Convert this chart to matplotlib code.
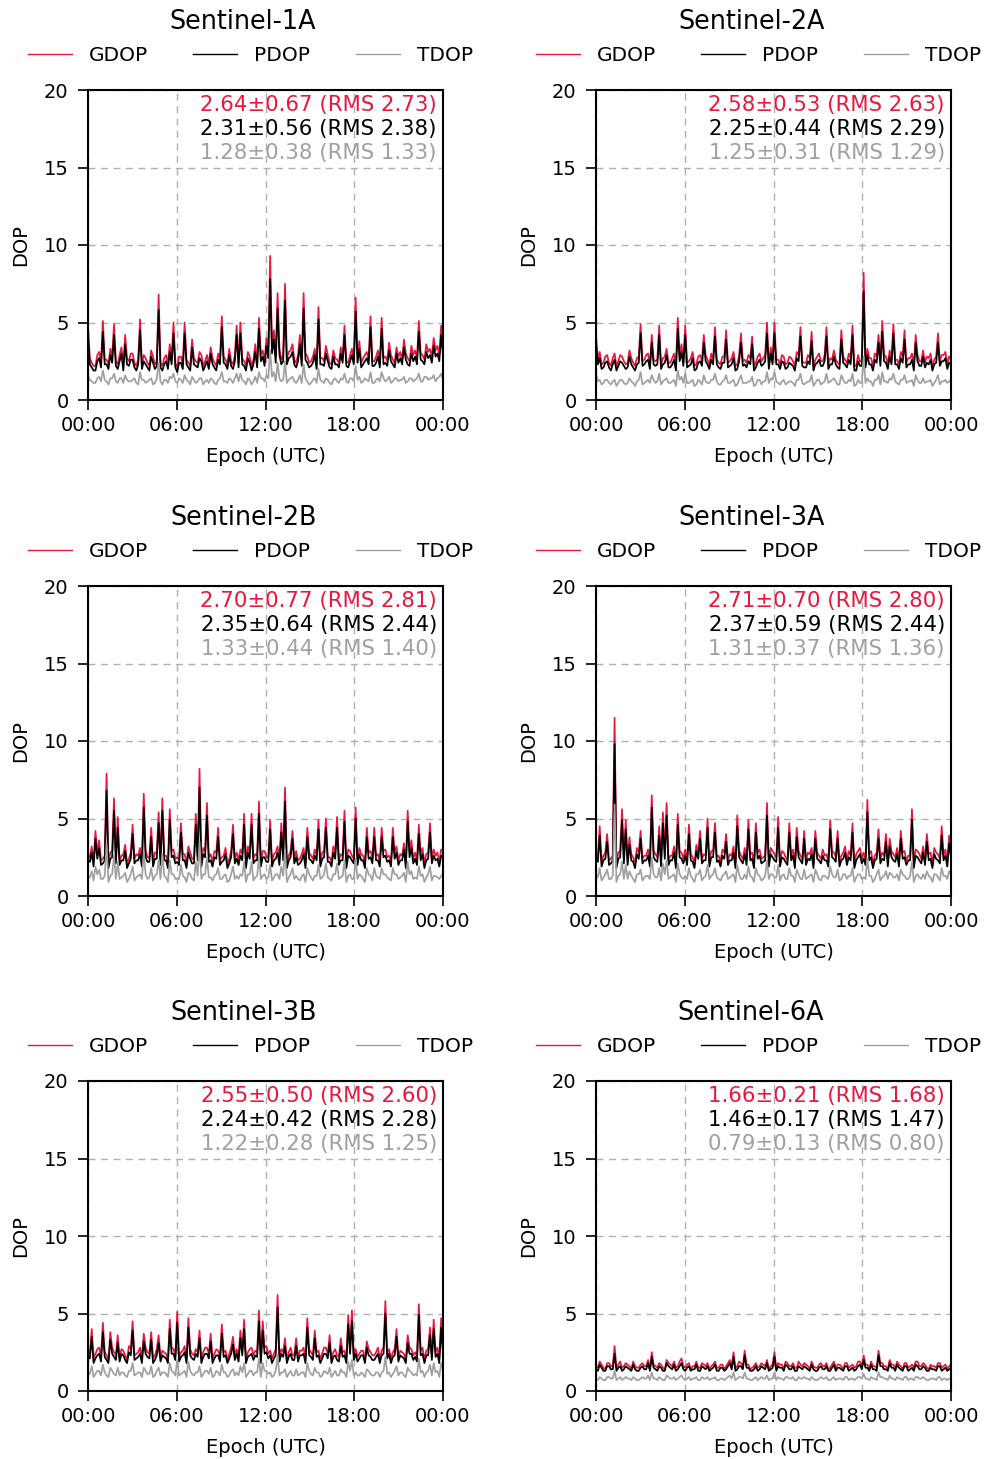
import numpy as np
import matplotlib
matplotlib.use("Agg")
import matplotlib.pyplot as plt

## DOP time series per satellite, 7.5-min samples over one day
satellites = ["Sentinel-1A", "Sentinel-2A", "Sentinel-2B", "Sentinel-3A", "Sentinel-3B", "Sentinel-6A"]

gdop_s1a = [4.8, 2.7, 2.4, 2.2, 2.2, 2.9, 3.1, 2.4, 5.1, 2.6, 2.6, 2.3, 3.3, 2.8, 4.9, 2.5,
            2.3, 2.9, 3.4, 2.2, 4.2, 2.7, 2.5, 3.0, 3.0, 2.4, 2.2, 2.6, 5.2, 2.3, 2.9, 2.7,
            2.4, 2.2, 3.2, 2.8, 2.3, 2.5, 6.8, 2.4, 2.2, 2.7, 2.9, 2.3, 3.6, 2.6, 5.0, 2.4,
            2.1, 2.8, 2.8, 2.3, 5.0, 2.6, 2.4, 2.2, 3.9, 2.7, 2.5, 2.4, 3.1, 2.9, 2.2, 2.5,
            2.9, 2.3, 3.4, 2.7, 2.4, 2.2, 3.0, 2.6, 5.4, 2.8, 2.6, 2.3, 3.3, 2.5, 2.3, 2.9,
            4.8, 2.4, 5.0, 2.7, 2.5, 2.2, 3.1, 2.8, 2.2, 2.6, 3.6, 2.4, 5.3, 2.9, 3.2, 2.5,
            4.0, 3.1, 9.3, 3.4, 4.5, 2.8, 6.9, 3.3, 2.6, 2.9, 7.5, 2.7, 3.1, 3.2, 3.6, 2.6,
            2.4, 2.9, 4.2, 2.5, 6.9, 3.0, 2.8, 2.4, 2.5, 2.8, 3.3, 2.3, 6.0, 2.7, 2.7, 2.5,
            3.5, 2.9, 2.4, 2.3, 3.2, 2.7, 2.6, 2.4, 3.4, 2.8, 4.8, 2.5, 2.4, 2.9, 3.3, 2.6,
            6.6, 2.8, 3.8, 2.4, 2.7, 2.9, 3.1, 2.6, 5.4, 2.5, 2.5, 2.8, 3.2, 2.4, 5.3, 2.7,
            2.8, 2.5, 3.7, 2.9, 2.6, 2.4, 3.4, 2.8, 3.1, 2.6, 3.9, 3.0, 2.7, 2.5, 3.5, 2.9,
            3.2, 2.7, 5.1, 3.0, 2.9, 2.6, 3.6, 3.1, 3.3, 2.8, 4.0, 3.2, 3.5, 2.9, 4.8, 3.3]
pdop_s1a = [4.1, 2.3, 2.1, 1.9, 1.9, 2.5, 2.7, 2.1, 4.4, 2.3, 2.3, 2.0, 2.9, 2.4, 4.2, 2.2,
            2.0, 2.5, 3.0, 1.9, 3.6, 2.3, 2.2, 2.6, 2.6, 2.1, 1.9, 2.3, 4.5, 2.0, 2.5, 2.3,
            2.1, 1.9, 2.8, 2.4, 2.0, 2.2, 5.8, 2.1, 1.9, 2.3, 2.5, 2.0, 3.1, 2.3, 4.3, 2.1,
            1.8, 2.4, 2.4, 2.0, 4.3, 2.3, 2.1, 1.9, 3.4, 2.3, 2.2, 2.1, 2.7, 2.5, 1.9, 2.2,
            2.5, 2.0, 3.0, 2.3, 2.1, 1.9, 2.6, 2.3, 4.7, 2.4, 2.3, 2.0, 2.9, 2.2, 2.0, 2.5,
            4.2, 2.1, 4.3, 2.3, 2.2, 1.9, 2.7, 2.4, 1.9, 2.3, 3.1, 2.1, 4.6, 2.5, 2.8, 2.2,
            3.5, 2.7, 7.8, 3.0, 3.9, 2.4, 5.9, 2.9, 2.3, 2.5, 6.4, 2.3, 2.7, 2.8, 3.1, 2.3,
            2.1, 2.5, 3.6, 2.2, 5.9, 2.6, 2.4, 2.1, 2.2, 2.4, 2.9, 2.0, 5.2, 2.3, 2.3, 2.2,
            3.0, 2.5, 2.1, 2.0, 2.8, 2.3, 2.3, 2.1, 3.0, 2.4, 4.2, 2.2, 2.1, 2.5, 2.9, 2.3,
            5.7, 2.4, 3.3, 2.1, 2.3, 2.5, 2.7, 2.3, 4.7, 2.2, 2.2, 2.4, 2.8, 2.1, 4.6, 2.3,
            2.4, 2.2, 3.2, 2.5, 2.3, 2.1, 3.0, 2.4, 2.7, 2.3, 3.4, 2.6, 2.3, 2.2, 3.0, 2.5,
            2.8, 2.3, 4.4, 2.6, 2.5, 2.3, 3.1, 2.7, 2.9, 2.4, 3.5, 2.8, 3.0, 2.5, 4.2, 2.9]
tdop_s1a = [1.6, 1.3, 1.2, 1.1, 1.1, 1.4, 1.5, 1.2, 1.9, 1.3, 1.2, 1.0, 1.4, 1.4, 1.7, 1.2,
            1.1, 1.4, 1.4, 1.1, 1.6, 1.3, 1.2, 1.2, 1.3, 1.4, 1.1, 1.0, 1.8, 1.3, 1.3, 1.1,
            1.2, 1.3, 1.4, 1.0, 1.1, 1.4, 2.4, 1.2, 1.0, 1.3, 1.3, 1.1, 1.5, 1.4, 1.7, 1.2,
            1.1, 1.4, 1.3, 1.1, 1.6, 1.3, 1.2, 1.0, 1.5, 1.3, 1.1, 1.2, 1.4, 1.4, 1.0, 1.2,
            1.3, 1.1, 1.4, 1.3, 1.1, 1.0, 1.3, 1.4, 1.8, 1.2, 1.2, 1.1, 1.4, 1.3, 1.1, 1.4,
            1.7, 1.2, 1.7, 1.3, 1.2, 1.0, 1.4, 1.3, 1.0, 1.2, 1.5, 1.1, 1.8, 1.4, 1.4, 1.2,
            1.6, 1.4, 3.2, 1.5, 1.8, 1.2, 2.4, 1.4, 1.2, 1.3, 2.5, 1.1, 1.3, 1.4, 1.5, 1.2,
            1.1, 1.3, 1.6, 1.1, 2.3, 1.4, 1.2, 1.0, 1.1, 1.3, 1.4, 1.1, 2.0, 1.3, 1.2, 1.1,
            1.4, 1.3, 1.1, 1.0, 1.3, 1.4, 1.2, 1.1, 1.4, 1.3, 1.7, 1.2, 1.1, 1.4, 1.4, 1.2,
            2.2, 1.3, 1.5, 1.1, 1.2, 1.4, 1.3, 1.2, 1.8, 1.1, 1.1, 1.3, 1.4, 1.2, 1.8, 1.4,
            1.2, 1.3, 1.5, 1.1, 1.2, 1.4, 1.4, 1.2, 1.3, 1.3, 1.5, 1.1, 1.2, 1.4, 1.4, 1.2,
            1.3, 1.4, 1.7, 1.2, 1.2, 1.5, 1.5, 1.3, 1.4, 1.4, 1.6, 1.2, 1.4, 1.5, 1.7, 1.3]

gdop_s2a = [4.2, 2.6, 3.1, 2.3, 2.4, 2.8, 2.9, 2.4, 2.2, 2.7, 3.0, 2.2, 2.5, 2.9, 2.8, 2.5,
            2.3, 2.4, 3.2, 2.7, 2.4, 2.2, 2.7, 2.8, 4.9, 2.5, 2.6, 2.9, 3.0, 2.3, 4.2, 2.6,
            2.5, 2.6, 4.8, 2.3, 2.7, 2.8, 3.3, 2.4, 2.4, 2.7, 3.0, 2.2, 5.3, 2.9, 3.6, 2.5,
            4.8, 2.4, 2.5, 2.7, 3.1, 2.2, 2.3, 2.8, 2.9, 2.5, 4.2, 2.9, 2.6, 2.3, 3.0, 2.6,
            4.7, 2.6, 2.4, 2.3, 2.8, 2.8, 4.5, 2.4, 2.5, 2.7, 3.1, 2.2, 2.3, 2.9, 4.3, 2.5,
            2.6, 2.4, 2.9, 2.7, 4.1, 2.2, 2.4, 2.8, 3.0, 2.5, 2.7, 2.9, 5.0, 2.3, 3.4, 2.6,
            5.0, 2.6, 2.6, 2.3, 2.9, 2.8, 2.3, 2.4, 2.8, 2.7, 2.5, 2.2, 3.1, 2.9, 4.7, 2.5,
            2.4, 2.4, 2.9, 2.7, 4.4, 2.2, 2.6, 2.8, 3.0, 2.5, 2.5, 2.9, 4.7, 2.3, 2.7, 2.6,
            3.2, 2.6, 2.4, 2.3, 4.5, 2.8, 2.6, 2.4, 3.0, 2.7, 4.8, 2.2, 2.2, 2.9, 2.5, 2.5,
            8.2, 2.4, 3.3, 2.7, 2.7, 2.2, 3.0, 2.8, 4.2, 2.5, 5.1, 2.9, 2.8, 2.3, 3.2, 2.6,
            4.9, 2.6, 2.6, 2.3, 3.1, 2.8, 4.5, 2.4, 2.7, 2.7, 3.0, 2.2, 4.2, 2.9, 2.5, 2.5,
            3.2, 2.4, 2.8, 2.7, 3.0, 2.2, 2.6, 2.8, 4.3, 2.5, 2.9, 2.9, 3.1, 2.3, 2.8, 2.6]
pdop_s2a = [3.7, 2.3, 2.7, 2.0, 2.1, 2.4, 2.5, 2.1, 1.9, 2.3, 2.6, 1.9, 2.2, 2.5, 2.4, 2.2,
            2.0, 2.1, 2.8, 2.3, 2.1, 1.9, 2.3, 2.4, 4.3, 2.2, 2.3, 2.5, 2.6, 2.0, 3.7, 2.3,
            2.2, 2.3, 4.2, 2.0, 2.3, 2.4, 2.9, 2.1, 2.1, 2.3, 2.6, 1.9, 4.6, 2.5, 3.1, 2.2,
            4.2, 2.1, 2.2, 2.3, 2.7, 1.9, 2.0, 2.4, 2.5, 2.2, 3.7, 2.5, 2.3, 2.0, 2.6, 2.3,
            4.1, 2.3, 2.1, 2.0, 2.4, 2.4, 3.9, 2.1, 2.2, 2.3, 2.7, 1.9, 2.0, 2.5, 3.7, 2.2,
            2.3, 2.1, 2.5, 2.3, 3.6, 1.9, 2.1, 2.4, 2.6, 2.2, 2.3, 2.5, 4.3, 2.0, 3.0, 2.3,
            4.3, 2.3, 2.3, 2.0, 2.5, 2.4, 2.0, 2.1, 2.4, 2.3, 2.2, 1.9, 2.7, 2.5, 4.1, 2.2,
            2.1, 2.1, 2.5, 2.3, 3.8, 1.9, 2.3, 2.4, 2.6, 2.2, 2.2, 2.5, 4.1, 2.0, 2.3, 2.3,
            2.8, 2.3, 2.1, 2.0, 3.9, 2.4, 2.3, 2.1, 2.6, 2.3, 4.2, 1.9, 1.9, 2.5, 2.2, 2.2,
            7.0, 2.1, 2.9, 2.3, 2.3, 1.9, 2.6, 2.4, 3.7, 2.2, 4.4, 2.5, 2.4, 2.0, 2.8, 2.3,
            4.3, 2.3, 2.3, 2.0, 2.7, 2.4, 3.9, 2.1, 2.3, 2.3, 2.6, 1.9, 3.7, 2.5, 2.2, 2.2,
            2.8, 2.1, 2.4, 2.3, 2.6, 1.9, 2.3, 2.4, 3.7, 2.2, 2.5, 2.5, 2.7, 2.0, 2.4, 2.3]
tdop_s2a = [1.7, 1.2, 1.3, 1.0, 1.1, 1.3, 1.3, 1.1, 1.0, 1.2, 1.3, 0.9, 1.1, 1.3, 1.3, 1.1,
            1.0, 1.1, 1.4, 1.2, 1.1, 0.9, 1.2, 1.3, 1.8, 1.0, 1.1, 1.2, 1.3, 1.1, 1.6, 1.3,
            1.1, 1.2, 1.7, 1.0, 1.2, 1.3, 1.4, 1.1, 1.1, 1.2, 1.3, 0.9, 1.9, 1.3, 1.5, 1.1,
            1.7, 1.1, 1.1, 1.2, 1.3, 0.9, 1.0, 1.3, 1.2, 1.0, 1.6, 1.2, 1.1, 1.1, 1.3, 1.3,
            1.7, 1.2, 1.0, 1.0, 1.2, 1.3, 1.6, 1.1, 1.1, 1.2, 1.3, 0.9, 1.0, 1.3, 1.6, 1.1,
            1.1, 1.1, 1.2, 1.2, 1.5, 0.9, 1.0, 1.3, 1.3, 1.0, 1.2, 1.2, 1.8, 1.1, 1.4, 1.3,
            1.8, 1.2, 1.1, 1.0, 1.2, 1.3, 1.0, 1.1, 1.2, 1.2, 1.1, 0.9, 1.3, 1.3, 1.7, 1.1,
            1.0, 1.1, 1.2, 1.2, 1.6, 0.9, 1.1, 1.3, 1.3, 1.0, 1.1, 1.2, 1.7, 1.1, 1.2, 1.3,
            1.4, 1.2, 1.0, 1.0, 1.6, 1.3, 1.1, 1.1, 1.3, 1.2, 1.7, 0.9, 1.0, 1.3, 1.1, 1.1,
            2.8, 1.1, 1.4, 1.2, 1.2, 0.9, 1.3, 1.3, 1.6, 1.0, 1.8, 1.2, 1.2, 1.1, 1.4, 1.3,
            1.7, 1.2, 1.1, 1.0, 1.3, 1.3, 1.6, 1.1, 1.2, 1.2, 1.3, 0.9, 1.6, 1.3, 1.1, 1.1,
            1.4, 1.1, 1.2, 1.2, 1.3, 0.9, 1.1, 1.3, 1.6, 1.0, 1.2, 1.2, 1.3, 1.1, 1.2, 1.3]

gdop_s2b = [2.7, 2.5, 3.2, 2.2, 4.2, 2.8, 3.6, 2.3, 2.4, 2.6, 7.9, 2.1, 2.8, 2.9, 6.3, 2.4,
            5.1, 2.3, 2.6, 2.7, 3.3, 2.1, 2.4, 2.8, 4.6, 2.4, 2.7, 2.6, 3.1, 2.2, 6.6, 2.9,
            2.5, 2.5, 4.4, 2.2, 2.8, 2.8, 5.4, 2.3, 6.3, 2.6, 2.6, 2.1, 5.6, 2.9, 3.0, 2.4,
            2.5, 2.3, 4.7, 2.7, 2.7, 2.1, 3.2, 2.8, 2.4, 2.4, 5.3, 2.6, 8.2, 2.2, 3.1, 2.9,
            6.0, 2.5, 2.7, 2.2, 2.9, 2.8, 4.4, 2.3, 2.5, 2.6, 3.1, 2.1, 2.4, 2.9, 4.6, 2.4,
            2.8, 2.3, 3.0, 2.7, 5.3, 2.1, 3.2, 2.8, 5.3, 2.4, 2.7, 2.6, 6.1, 2.2, 2.9, 2.9,
            2.5, 2.5, 4.9, 2.2, 2.7, 2.8, 3.2, 2.3, 4.7, 2.6, 7.0, 2.1, 2.6, 2.9, 4.2, 2.4,
            2.9, 2.3, 2.4, 2.7, 3.1, 2.1, 4.4, 2.8, 2.6, 2.4, 3.0, 2.6, 4.9, 2.2, 2.8, 2.9,
            5.0, 2.5, 2.5, 2.2, 3.2, 2.8, 5.1, 2.3, 2.7, 2.6, 5.5, 2.1, 3.0, 2.9, 2.6, 2.4,
            5.7, 2.3, 3.1, 2.7, 2.6, 2.1, 4.4, 2.8, 2.9, 2.4, 4.4, 2.6, 2.7, 2.2, 4.4, 2.9,
            3.0, 2.5, 2.6, 2.2, 4.4, 2.8, 3.2, 2.3, 2.7, 2.6, 3.4, 2.1, 5.5, 2.9, 3.6, 2.4,
            2.8, 2.3, 4.6, 2.7, 3.1, 2.1, 2.7, 2.8, 4.7, 2.4, 3.0, 2.6, 2.8, 2.2, 3.0, 2.9]
pdop_s2b = [2.3, 2.2, 2.8, 1.9, 3.7, 2.4, 3.1, 2.0, 2.1, 2.3, 6.8, 1.8, 2.4, 2.5, 5.5, 2.1,
            4.4, 2.0, 2.3, 2.3, 2.9, 1.8, 2.1, 2.4, 4.0, 2.1, 2.3, 2.3, 2.7, 1.9, 5.7, 2.5,
            2.2, 2.2, 3.8, 1.9, 2.4, 2.4, 4.7, 2.0, 5.5, 2.3, 2.3, 1.8, 4.9, 2.5, 2.6, 2.1,
            2.2, 2.0, 4.1, 2.3, 2.3, 1.8, 2.8, 2.4, 2.1, 2.1, 4.6, 2.3, 7.0, 1.9, 2.7, 2.5,
            5.2, 2.2, 2.3, 1.9, 2.5, 2.4, 3.8, 2.0, 2.2, 2.3, 2.7, 1.8, 2.1, 2.5, 4.0, 2.1,
            2.4, 2.0, 2.6, 2.3, 4.6, 1.8, 2.8, 2.4, 4.6, 2.1, 2.3, 2.3, 5.3, 1.9, 2.5, 2.5,
            2.2, 2.2, 4.3, 1.9, 2.3, 2.4, 2.8, 2.0, 4.1, 2.3, 6.1, 1.8, 2.3, 2.5, 3.7, 2.1,
            2.5, 2.0, 2.1, 2.3, 2.7, 1.8, 3.8, 2.4, 2.3, 2.1, 2.6, 2.3, 4.3, 1.9, 2.4, 2.5,
            4.4, 2.2, 2.2, 1.9, 2.8, 2.4, 4.4, 2.0, 2.3, 2.3, 4.8, 1.8, 2.6, 2.5, 2.3, 2.1,
            5.0, 2.0, 2.7, 2.3, 2.3, 1.8, 3.8, 2.4, 2.5, 2.1, 3.8, 2.3, 2.3, 1.9, 3.8, 2.5,
            2.6, 2.2, 2.3, 1.9, 3.8, 2.4, 2.8, 2.0, 2.3, 2.3, 3.0, 1.8, 4.8, 2.5, 3.1, 2.1,
            2.4, 2.0, 4.0, 2.3, 2.7, 1.8, 2.3, 2.4, 4.1, 2.1, 2.6, 2.3, 2.4, 1.9, 2.6, 2.5]
tdop_s2b = [1.3, 1.2, 1.6, 1.0, 1.9, 1.4, 1.7, 1.1, 1.1, 1.3, 3.4, 0.9, 1.3, 1.4, 2.6, 1.1,
            2.2, 1.1, 1.2, 1.3, 1.5, 0.9, 1.1, 1.4, 1.9, 1.0, 1.2, 1.3, 1.4, 1.1, 2.8, 1.4,
            1.1, 1.2, 1.8, 1.0, 1.3, 1.4, 2.3, 1.1, 2.7, 1.3, 1.2, 0.9, 2.3, 1.4, 1.4, 1.1,
            1.1, 1.1, 2.0, 1.3, 1.2, 0.9, 1.5, 1.4, 1.1, 1.0, 2.2, 1.3, 3.5, 1.1, 1.4, 1.4,
            2.5, 1.2, 1.2, 1.0, 1.3, 1.4, 1.8, 1.1, 1.1, 1.3, 1.4, 0.9, 1.0, 1.4, 1.9, 1.1,
            1.3, 1.1, 1.4, 1.3, 2.2, 0.9, 1.4, 1.4, 2.2, 1.0, 1.2, 1.3, 2.5, 1.1, 1.3, 1.4,
            1.1, 1.2, 2.0, 1.0, 1.2, 1.4, 1.4, 1.1, 1.9, 1.3, 3.0, 0.9, 1.2, 1.4, 1.8, 1.1,
            1.3, 1.1, 1.0, 1.3, 1.4, 0.9, 1.8, 1.4, 1.2, 1.0, 1.3, 1.3, 2.0, 1.1, 1.2, 1.4,
            2.1, 1.2, 1.1, 1.0, 1.4, 1.4, 2.1, 1.1, 1.2, 1.3, 2.3, 0.9, 1.3, 1.4, 1.1, 1.1,
            2.4, 1.1, 1.4, 1.3, 1.1, 0.9, 1.8, 1.4, 1.3, 1.0, 1.8, 1.3, 1.2, 1.1, 1.8, 1.4,
            1.4, 1.2, 1.1, 1.0, 1.8, 1.4, 1.4, 1.1, 1.2, 1.3, 1.5, 0.9, 2.2, 1.4, 1.6, 1.1,
            1.2, 1.1, 1.9, 1.3, 1.4, 0.9, 1.2, 1.4, 1.9, 1.0, 1.3, 1.3, 1.2, 1.1, 1.3, 1.4]

gdop_s3a = [2.9, 2.5, 4.5, 2.2, 2.6, 2.8, 4.0, 2.3, 2.4, 2.6, 11.5, 2.1, 2.8, 2.9, 5.6, 2.4,
            4.9, 2.3, 3.8, 2.7, 2.5, 2.1, 3.1, 2.8, 4.2, 2.4, 2.6, 2.6, 3.0, 2.2, 6.5, 2.9,
            2.7, 2.5, 4.5, 2.2, 5.4, 2.8, 6.0, 2.3, 2.6, 2.6, 3.2, 2.1, 5.3, 2.9, 2.8, 2.4,
            3.0, 2.3, 4.6, 2.7, 2.5, 2.1, 3.3, 2.8, 4.2, 2.4, 2.7, 2.6, 5.0, 2.2, 2.9, 2.9,
            4.7, 2.5, 2.6, 2.2, 3.0, 2.8, 4.0, 2.3, 2.7, 2.6, 3.2, 2.1, 5.2, 2.9, 2.6, 2.4,
            3.1, 2.3, 4.9, 2.7, 2.8, 2.1, 4.7, 2.8, 3.0, 2.4, 2.5, 2.6, 6.0, 2.2, 3.1, 2.9,
            2.7, 2.5, 5.1, 2.2, 2.9, 2.8, 2.5, 2.3, 4.7, 2.6, 3.0, 2.1, 4.4, 2.9, 2.6, 2.4,
            4.2, 2.3, 2.8, 2.7, 3.1, 2.1, 4.2, 2.8, 2.6, 2.4, 3.0, 2.6, 2.7, 2.2, 4.9, 2.9,
            2.8, 2.5, 4.2, 2.2, 2.6, 2.8, 3.2, 2.3, 2.9, 2.6, 4.7, 2.1, 2.7, 2.9, 3.1, 2.4,
            2.8, 2.3, 6.2, 2.7, 2.9, 2.1, 2.6, 2.8, 4.3, 2.4, 2.8, 2.6, 4.0, 2.2, 3.7, 2.9,
            2.7, 2.5, 3.1, 2.2, 4.2, 2.8, 2.9, 2.3, 2.6, 2.6, 5.6, 2.1, 3.0, 2.9, 2.7, 2.4,
            3.2, 2.3, 4.0, 2.7, 2.8, 2.1, 3.1, 2.8, 2.7, 2.4, 4.5, 2.6, 3.0, 2.2, 3.9, 2.9]
pdop_s3a = [2.5, 2.2, 3.9, 1.9, 2.3, 2.4, 3.5, 2.0, 2.1, 2.3, 9.8, 1.8, 2.4, 2.5, 4.9, 2.1,
            4.3, 2.0, 3.3, 2.3, 2.2, 1.8, 2.7, 2.4, 3.7, 2.1, 2.3, 2.3, 2.6, 1.9, 5.7, 2.5,
            2.3, 2.2, 3.9, 1.9, 4.7, 2.4, 5.2, 2.0, 2.3, 2.3, 2.8, 1.8, 4.6, 2.5, 2.4, 2.1,
            2.6, 2.0, 4.0, 2.3, 2.2, 1.8, 2.9, 2.4, 3.7, 2.1, 2.3, 2.3, 4.4, 1.9, 2.5, 2.5,
            4.1, 2.2, 2.3, 1.9, 2.6, 2.4, 3.5, 2.0, 2.3, 2.3, 2.8, 1.8, 4.5, 2.5, 2.3, 2.1,
            2.7, 2.0, 4.3, 2.3, 2.4, 1.8, 4.1, 2.4, 2.6, 2.1, 2.2, 2.3, 5.2, 1.9, 2.7, 2.5,
            2.3, 2.2, 4.4, 1.9, 2.5, 2.4, 2.2, 2.0, 4.1, 2.3, 2.6, 1.8, 3.8, 2.5, 2.3, 2.1,
            3.7, 2.0, 2.4, 2.3, 2.7, 1.8, 3.7, 2.4, 2.3, 2.1, 2.6, 2.3, 2.3, 1.9, 4.3, 2.5,
            2.4, 2.2, 3.7, 1.9, 2.3, 2.4, 2.8, 2.0, 2.5, 2.3, 4.1, 1.8, 2.3, 2.5, 2.7, 2.1,
            2.4, 2.0, 5.4, 2.3, 2.5, 1.8, 2.3, 2.4, 3.7, 2.1, 2.4, 2.3, 3.5, 1.9, 3.2, 2.5,
            2.3, 2.2, 2.7, 1.9, 3.7, 2.4, 2.5, 2.0, 2.3, 2.3, 4.9, 1.8, 2.6, 2.5, 2.3, 2.1,
            2.8, 2.0, 3.5, 2.3, 2.4, 1.8, 2.7, 2.4, 2.3, 2.1, 3.9, 2.3, 2.6, 1.9, 3.4, 2.5]
tdop_s3a = [1.4, 1.2, 1.8, 1.0, 1.2, 1.4, 1.7, 1.1, 1.1, 1.3, 5.9, 0.9, 1.3, 1.4, 2.2, 1.1,
            2.0, 1.1, 1.6, 1.3, 1.1, 0.9, 1.4, 1.4, 1.7, 1.0, 1.2, 1.3, 1.3, 1.1, 2.5, 1.4,
            1.2, 1.2, 1.8, 1.0, 2.1, 1.4, 2.3, 1.1, 1.2, 1.3, 1.4, 0.9, 2.1, 1.4, 1.2, 1.1,
            1.3, 1.1, 1.8, 1.3, 1.1, 0.9, 1.4, 1.4, 1.7, 1.0, 1.2, 1.3, 2.0, 1.1, 1.3, 1.4,
            1.8, 1.2, 1.1, 1.0, 1.3, 1.4, 1.6, 1.1, 1.2, 1.3, 1.4, 0.9, 2.0, 1.4, 1.1, 1.1,
            1.4, 1.1, 1.9, 1.3, 1.2, 0.9, 1.8, 1.4, 1.3, 1.0, 1.1, 1.3, 2.3, 1.1, 1.4, 1.4,
            1.2, 1.2, 2.0, 1.0, 1.3, 1.4, 1.1, 1.1, 1.8, 1.3, 1.3, 0.9, 1.7, 1.4, 1.1, 1.1,
            1.7, 1.1, 1.2, 1.3, 1.4, 0.9, 1.7, 1.4, 1.1, 1.0, 1.3, 1.3, 1.2, 1.1, 1.9, 1.4,
            1.2, 1.2, 1.7, 1.0, 1.1, 1.4, 1.4, 1.1, 1.3, 1.3, 1.8, 0.9, 1.2, 1.4, 1.4, 1.1,
            1.2, 1.1, 2.4, 1.3, 1.3, 0.9, 1.1, 1.4, 1.7, 1.0, 1.2, 1.3, 1.6, 1.1, 1.5, 1.4,
            1.2, 1.2, 1.4, 1.0, 1.7, 1.4, 1.3, 1.1, 1.1, 1.3, 2.2, 0.9, 1.3, 1.4, 1.2, 1.1,
            1.4, 1.1, 1.6, 1.3, 1.2, 0.9, 1.4, 1.4, 1.2, 1.0, 1.8, 1.3, 1.3, 1.1, 1.6, 1.4]

gdop_s3b = [2.6, 2.4, 4.0, 2.1, 2.4, 2.7, 2.8, 2.2, 4.4, 2.5, 2.3, 2.0, 3.8, 2.8, 2.5, 2.3,
            3.6, 2.2, 2.7, 2.6, 2.3, 2.0, 2.9, 2.7, 4.5, 2.3, 2.4, 2.5, 2.8, 2.1, 3.7, 2.8,
            2.5, 2.4, 3.8, 2.1, 2.3, 2.7, 3.6, 2.2, 2.6, 2.5, 2.4, 2.0, 4.6, 2.8, 2.7, 2.3,
            5.1, 2.2, 2.5, 2.6, 2.9, 2.0, 4.7, 2.7, 2.4, 2.3, 2.7, 2.5, 3.9, 2.1, 2.5, 2.8,
            2.8, 2.4, 3.7, 2.1, 2.4, 2.7, 2.6, 2.2, 4.3, 2.5, 2.6, 2.0, 2.4, 2.8, 3.5, 2.3,
            2.7, 2.2, 3.9, 2.6, 4.6, 2.0, 2.5, 2.7, 2.8, 2.3, 2.6, 2.5, 5.2, 2.1, 4.5, 2.8,
            2.9, 2.4, 2.6, 2.1, 2.4, 2.7, 6.2, 2.2, 2.7, 2.5, 3.4, 2.0, 2.5, 2.8, 2.3, 2.3,
            3.4, 2.2, 2.6, 2.6, 2.8, 2.0, 4.7, 2.7, 2.5, 2.3, 3.9, 2.5, 2.6, 2.1, 2.4, 2.8,
            2.8, 2.4, 3.6, 2.1, 2.5, 2.7, 2.3, 2.2, 3.4, 2.5, 2.6, 2.0, 4.9, 2.8, 5.2, 2.3,
            2.7, 2.2, 2.4, 2.6, 2.6, 2.0, 3.2, 2.7, 2.5, 2.3, 2.3, 2.5, 2.8, 2.1, 2.6, 2.8,
            5.8, 2.4, 2.7, 2.1, 2.5, 2.7, 4.0, 2.2, 2.6, 2.5, 2.4, 2.0, 3.6, 2.8, 2.7, 2.3,
            2.5, 2.2, 5.6, 2.6, 2.8, 2.0, 2.6, 2.7, 4.1, 2.3, 4.6, 2.5, 2.8, 2.1, 4.7, 2.8]
pdop_s3b = [2.3, 2.1, 3.5, 1.8, 2.1, 2.3, 2.4, 1.9, 3.8, 2.2, 2.0, 1.8, 3.3, 2.4, 2.2, 2.0,
            3.1, 1.9, 2.4, 2.3, 2.0, 1.8, 2.5, 2.3, 3.9, 2.0, 2.1, 2.2, 2.4, 1.8, 3.2, 2.4,
            2.2, 2.1, 3.3, 1.8, 2.0, 2.3, 3.1, 1.9, 2.3, 2.2, 2.1, 1.8, 4.0, 2.4, 2.4, 2.0,
            4.4, 1.9, 2.2, 2.3, 2.5, 1.8, 4.1, 2.3, 2.1, 2.0, 2.4, 2.2, 3.4, 1.8, 2.2, 2.4,
            2.4, 2.1, 3.2, 1.8, 2.1, 2.3, 2.3, 1.9, 3.7, 2.2, 2.3, 1.8, 2.1, 2.4, 3.0, 2.0,
            2.4, 1.9, 3.4, 2.3, 4.0, 1.8, 2.2, 2.3, 2.4, 2.0, 2.3, 2.2, 4.5, 1.8, 3.9, 2.4,
            2.5, 2.1, 2.3, 1.8, 2.1, 2.3, 5.4, 1.9, 2.4, 2.2, 2.9, 1.8, 2.2, 2.4, 2.0, 2.0,
            2.9, 1.9, 2.3, 2.3, 2.4, 1.8, 4.1, 2.3, 2.2, 2.0, 3.4, 2.2, 2.3, 1.8, 2.1, 2.4,
            2.4, 2.1, 3.1, 1.8, 2.2, 2.3, 2.0, 1.9, 2.9, 2.2, 2.3, 1.8, 4.3, 2.4, 4.5, 2.0,
            2.4, 1.9, 2.1, 2.3, 2.3, 1.8, 2.8, 2.3, 2.2, 2.0, 2.0, 2.2, 2.4, 1.8, 2.3, 2.4,
            5.0, 2.1, 2.4, 1.8, 2.2, 2.3, 3.5, 1.9, 2.3, 2.2, 2.1, 1.8, 3.1, 2.4, 2.4, 2.0,
            2.2, 1.9, 4.9, 2.3, 2.4, 1.8, 2.3, 2.3, 3.6, 2.0, 4.0, 2.2, 2.4, 1.8, 4.1, 2.4]
tdop_s3b = [1.2, 1.1, 1.6, 0.9, 1.1, 1.3, 1.3, 1.0, 1.7, 1.2, 1.0, 0.9, 1.5, 1.3, 1.1, 1.0,
            1.5, 1.0, 1.2, 1.2, 1.0, 0.9, 1.3, 1.3, 1.8, 1.0, 1.1, 1.2, 1.2, 0.9, 1.5, 1.3,
            1.1, 1.1, 1.6, 0.9, 1.0, 1.3, 1.5, 1.0, 1.2, 1.2, 1.1, 0.9, 1.8, 1.3, 1.2, 1.0,
            2.0, 1.0, 1.1, 1.2, 1.3, 0.9, 1.9, 1.3, 1.1, 1.0, 1.2, 1.2, 1.6, 0.9, 1.1, 1.3,
            1.3, 1.1, 1.5, 0.9, 1.0, 1.3, 1.2, 1.0, 1.7, 1.2, 1.2, 0.9, 1.0, 1.3, 1.4, 1.0,
            1.2, 1.0, 1.6, 1.2, 1.8, 0.9, 1.1, 1.3, 1.3, 1.0, 1.2, 1.2, 2.1, 0.9, 1.8, 1.3,
            1.3, 1.1, 1.2, 0.9, 1.0, 1.3, 2.3, 1.0, 1.2, 1.2, 1.4, 0.9, 1.1, 1.3, 1.0, 1.0,
            1.4, 1.0, 1.1, 1.2, 1.2, 0.9, 1.8, 1.3, 1.1, 1.0, 1.5, 1.2, 1.2, 0.9, 1.0, 1.3,
            1.2, 1.1, 1.5, 0.9, 1.1, 1.3, 1.0, 1.0, 1.4, 1.2, 1.2, 0.9, 1.9, 1.3, 2.0, 1.0,
            1.2, 1.0, 1.0, 1.2, 1.1, 0.9, 1.4, 1.3, 1.1, 1.0, 1.0, 1.2, 1.2, 0.9, 1.2, 1.3,
            2.2, 1.1, 1.2, 0.9, 1.1, 1.3, 1.6, 1.0, 1.2, 1.2, 1.0, 0.9, 1.5, 1.3, 1.2, 1.0,
            1.1, 1.0, 2.1, 1.2, 1.3, 0.9, 1.2, 1.3, 1.7, 1.0, 1.8, 1.2, 1.3, 0.9, 1.8, 1.3]

gdop_s6a = [1.6, 1.5, 1.9, 1.7, 1.5, 1.4, 1.8, 1.8, 1.6, 1.6, 2.9, 1.5, 1.7, 1.9, 1.5, 1.6,
            1.8, 1.7, 1.6, 1.4, 1.9, 1.6, 1.5, 1.5, 1.7, 1.8, 1.6, 1.6, 2.0, 1.4, 2.5, 1.7,
            1.6, 1.5, 1.8, 1.7, 1.5, 1.4, 2.0, 1.8, 1.7, 1.6, 1.9, 1.5, 1.6, 1.9, 2.1, 1.6,
            1.5, 1.7, 1.8, 1.4, 1.6, 1.6, 1.9, 1.5, 1.5, 1.8, 1.7, 1.6, 1.8, 1.4, 1.6, 1.7,
            1.9, 1.5, 1.5, 1.7, 1.7, 1.4, 1.6, 1.8, 2.0, 1.6, 2.5, 1.5, 1.6, 1.9, 1.8, 1.6,
            2.6, 1.7, 1.7, 1.4, 1.5, 1.6, 1.8, 1.5, 1.6, 1.8, 1.7, 1.6, 2.0, 1.4, 1.6, 1.7,
            2.5, 1.5, 1.8, 1.7, 1.7, 1.4, 1.9, 1.8, 1.6, 1.6, 1.8, 1.5, 1.5, 1.9, 1.7, 1.6,
            1.8, 1.7, 1.6, 1.4, 1.9, 1.6, 1.5, 1.5, 1.7, 1.8, 1.6, 1.6, 1.8, 1.4, 1.5, 1.7,
            1.9, 1.5, 1.7, 1.7, 1.6, 1.4, 1.8, 1.8, 1.5, 1.6, 1.7, 1.5, 1.6, 1.9, 1.9, 1.6,
            2.3, 1.7, 1.7, 1.4, 1.9, 1.6, 1.6, 1.5, 2.6, 1.8, 1.8, 1.6, 1.6, 1.4, 2.0, 1.7,
            1.7, 1.5, 1.9, 1.7, 1.6, 1.4, 1.8, 1.8, 1.5, 1.6, 1.7, 1.5, 1.9, 1.9, 1.6, 1.6,
            1.8, 1.7, 1.5, 1.4, 1.7, 1.6, 1.6, 1.5, 1.8, 1.8, 1.5, 1.6, 1.7, 1.4, 1.6, 1.7]
pdop_s6a = [1.4, 1.3, 1.7, 1.5, 1.3, 1.3, 1.6, 1.6, 1.4, 1.4, 2.4, 1.3, 1.5, 1.6, 1.3, 1.4,
            1.6, 1.5, 1.4, 1.3, 1.7, 1.4, 1.3, 1.3, 1.5, 1.6, 1.4, 1.4, 1.8, 1.3, 2.2, 1.5,
            1.4, 1.3, 1.6, 1.5, 1.3, 1.3, 1.8, 1.6, 1.5, 1.4, 1.7, 1.3, 1.4, 1.6, 1.8, 1.4,
            1.3, 1.5, 1.6, 1.3, 1.4, 1.4, 1.7, 1.3, 1.3, 1.6, 1.5, 1.4, 1.6, 1.3, 1.4, 1.5,
            1.7, 1.3, 1.3, 1.5, 1.5, 1.3, 1.4, 1.6, 1.8, 1.4, 2.2, 1.3, 1.4, 1.6, 1.6, 1.4,
            2.3, 1.5, 1.5, 1.3, 1.3, 1.4, 1.6, 1.3, 1.4, 1.6, 1.5, 1.4, 1.8, 1.3, 1.4, 1.5,
            2.2, 1.3, 1.6, 1.5, 1.5, 1.3, 1.7, 1.6, 1.4, 1.4, 1.6, 1.3, 1.3, 1.6, 1.5, 1.4,
            1.6, 1.5, 1.4, 1.3, 1.7, 1.4, 1.3, 1.3, 1.5, 1.6, 1.4, 1.4, 1.6, 1.3, 1.3, 1.5,
            1.7, 1.3, 1.5, 1.5, 1.4, 1.3, 1.6, 1.6, 1.3, 1.4, 1.5, 1.3, 1.4, 1.6, 1.7, 1.4,
            2.0, 1.5, 1.5, 1.3, 1.7, 1.4, 1.4, 1.3, 2.3, 1.6, 1.6, 1.4, 1.4, 1.3, 1.8, 1.5,
            1.5, 1.3, 1.7, 1.5, 1.4, 1.3, 1.6, 1.6, 1.3, 1.4, 1.5, 1.3, 1.7, 1.6, 1.4, 1.4,
            1.6, 1.5, 1.3, 1.3, 1.5, 1.4, 1.4, 1.3, 1.6, 1.6, 1.3, 1.4, 1.5, 1.3, 1.4, 1.5]
tdop_s6a = [0.8, 0.7, 0.9, 0.8, 0.7, 0.7, 0.9, 0.9, 0.8, 0.8, 1.3, 0.7, 0.8, 0.9, 0.7, 0.8,
            0.9, 0.8, 0.8, 0.7, 0.9, 0.8, 0.7, 0.7, 0.8, 0.9, 0.8, 0.8, 1.0, 0.7, 1.2, 0.8,
            0.8, 0.7, 0.9, 0.8, 0.7, 0.7, 1.0, 0.9, 0.8, 0.8, 0.9, 0.7, 0.8, 0.9, 1.0, 0.8,
            0.7, 0.8, 0.9, 0.7, 0.8, 0.8, 0.9, 0.7, 0.7, 0.9, 0.8, 0.8, 0.9, 0.7, 0.8, 0.8,
            0.9, 0.7, 0.7, 0.8, 0.8, 0.7, 0.8, 0.9, 1.0, 0.8, 1.2, 0.7, 0.8, 0.9, 0.9, 0.8,
            1.2, 0.8, 0.8, 0.7, 0.7, 0.8, 0.9, 0.7, 0.8, 0.9, 0.8, 0.8, 1.0, 0.7, 0.8, 0.8,
            1.2, 0.7, 0.9, 0.8, 0.8, 0.7, 0.9, 0.9, 0.8, 0.8, 0.9, 0.7, 0.7, 0.9, 0.8, 0.8,
            0.9, 0.8, 0.8, 0.7, 0.9, 0.8, 0.7, 0.7, 0.8, 0.9, 0.8, 0.8, 0.9, 0.7, 0.7, 0.8,
            0.9, 0.7, 0.8, 0.8, 0.8, 0.7, 0.9, 0.9, 0.7, 0.8, 0.8, 0.7, 0.8, 0.9, 0.9, 0.8,
            1.1, 0.8, 0.8, 0.7, 0.9, 0.8, 0.8, 0.7, 1.2, 0.9, 0.9, 0.8, 0.8, 0.7, 1.0, 0.8,
            0.8, 0.7, 0.9, 0.8, 0.8, 0.7, 0.9, 0.9, 0.7, 0.8, 0.8, 0.7, 0.9, 0.9, 0.8, 0.8,
            0.9, 0.8, 0.7, 0.7, 0.8, 0.8, 0.8, 0.7, 0.9, 0.9, 0.7, 0.8, 0.8, 0.7, 0.8, 0.8]

gdop_all = [gdop_s1a, gdop_s2a, gdop_s2b, gdop_s3a, gdop_s3b, gdop_s6a]
pdop_all = [pdop_s1a, pdop_s2a, pdop_s2b, pdop_s3a, pdop_s3b, pdop_s6a]
tdop_all = [tdop_s1a, tdop_s2a, tdop_s2b, tdop_s3a, tdop_s3b, tdop_s6a]

# summary text shown in each panel: mean, std, rms
gdop_stats = ["2.64\u00b10.67 (RMS 2.73)", "2.58\u00b10.53 (RMS 2.63)", "2.70\u00b10.77 (RMS 2.81)",
              "2.71\u00b10.70 (RMS 2.80)", "2.55\u00b10.50 (RMS 2.60)", "1.66\u00b10.21 (RMS 1.68)"]
pdop_stats = ["2.31\u00b10.56 (RMS 2.38)", "2.25\u00b10.44 (RMS 2.29)", "2.35\u00b10.64 (RMS 2.44)",
              "2.37\u00b10.59 (RMS 2.44)", "2.24\u00b10.42 (RMS 2.28)", "1.46\u00b10.17 (RMS 1.47)"]
tdop_stats = ["1.28\u00b10.38 (RMS 1.33)", "1.25\u00b10.31 (RMS 1.29)", "1.33\u00b10.44 (RMS 1.40)",
              "1.31\u00b10.37 (RMS 1.36)", "1.22\u00b10.28 (RMS 1.25)", "0.79\u00b10.13 (RMS 0.80)"]

time_ticks = [0, 6, 12, 18, 24]
time_labels = ["00:00", "06:00", "12:00", "18:00", "00:00"]

c_g = "#e8173c"
c_p = "black"
c_t = "#a0a0a0"

W, H = 984, 1459
fig = plt.figure(figsize=(W / 100, H / 100), dpi=100)

lefts = [88, 596]
tops = [90, 586, 1081]
aw, ah = 355, 310

for k, name in enumerate(satellites):
    col = k % 2
    row = k // 2
    x0 = lefts[col]
    y0 = tops[row]
    ax = fig.add_axes([x0 / W, 1 - (y0 + ah) / H, aw / W, ah / H])

    n = len(gdop_all[k])
    t = np.linspace(0, 24, n)
    ax.plot(t, gdop_all[k], color=c_g, lw=1.25, label="GDOP")
    ax.plot(t, pdop_all[k], color=c_p, lw=1.25, label="PDOP")
    ax.plot(t, tdop_all[k], color=c_t, lw=1.25, label="TDOP")

    ax.set_xlim(0, 24)
    ax.set_ylim(0, 20)
    ax.set_xticks(time_ticks)
    ax.set_xticklabels(time_labels)
    ax.set_yticks([0, 5, 10, 15, 20])
    ax.tick_params(labelsize=14, length=7, width=1.2)
    ax.tick_params(axis="x", pad=4.7)
    ax.tick_params(axis="y", pad=7)
    ax.grid(True, ls=(0, (5, 4)), color="#b0b0b0", lw=1)
    for sp in ax.spines.values():
        sp.set_linewidth(1.5)

    ax.set_xlabel("Epoch (UTC)", fontsize=14)
    ax.xaxis.set_label_coords(0.5, -0.151)
    ax.set_ylabel("DOP", fontsize=14)
    ax.yaxis.set_label_coords((30 - 88) / 355, 0.5)

    # stats text block, top right
    ax.text(0.983, 0.952, gdop_stats[k], color=c_g, fontsize=15.3, ha="right", va="center", transform=ax.transAxes)
    ax.text(0.983, 0.874, pdop_stats[k], color=c_p, fontsize=15.3, ha="right", va="center", transform=ax.transAxes)
    ax.text(0.983, 0.797, tdop_stats[k], color=c_t, fontsize=15.3, ha="right", va="center", transform=ax.transAxes)

    leg = ax.legend(loc="center", bbox_to_anchor=(0.457, 1.11), ncol=3, frameon=False,
                    fontsize=14.5, handlelength=2.19, handletextpad=0.85, columnspacing=2.24)
    for h in leg.get_lines():
        h.set_linewidth(1.0)
    ax.text(0.437, 1.22, name, fontsize=18.4, ha="center", va="center", transform=ax.transAxes)

fig.savefig("out.png", dpi=100)
